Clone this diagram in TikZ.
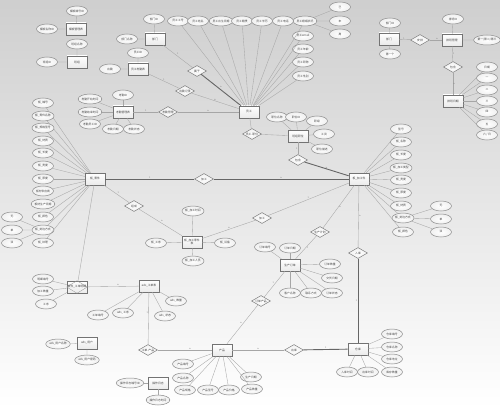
\documentclass[tikz,border=0pt]{standalone}
\usepackage{fontspec}
\newfontfamily\cjk{Noto Sans CJK SC}
\usetikzlibrary{shapes.geometric}
\begin{document}
\begin{tikzpicture}[x=1pt,y=-1pt,
  every node/.style={font=\cjk\fontsize{2.8}{3.2}\selectfont, text=black!75},
  ent/.style={draw=black!55, top color=white, bottom color=black!8, minimum width=20pt, minimum height=12pt, inner sep=0.5pt, line width=0.55pt},
  attr/.style={ellipse, draw=black!45, inner color=white, outer color=black!6, minimum width=21pt, minimum height=10pt, inner sep=0pt, line width=0.5pt},
  rel/.style={diamond, aspect=1.7, draw=black!50, inner color=white, outer color=black!6, minimum width=19pt, minimum height=11pt, inner sep=0pt, line width=0.5pt},
  ln/.style={draw=black!35, line width=0.35pt},
  bold/.style={draw=black!60, line width=0.9pt},
  card/.style={font=\fontsize{2.5}{3}\selectfont, text=black!50, inner sep=0.3pt}
]
\useasboundingbox (0,0) rectangle (500,409);
\shade[top color=black!19, bottom color=white] (0,0) rectangle (500,409);

% ---------- templates and teams ----------
\node[ent] (tpl) at (76,29) {模板管理表};
\node[attr] (tpl1) at (77,11) {模板编号ID};
\node[attr] (tpl2) at (47,29) {模板名称ID};
\node[ent] (team) at (77,62) {班组};
\node[attr] (team1) at (77,44) {班组名称};
\node[attr] (team2) at (47,62) {班组ID};
\draw[ln] (tpl) -- (tpl1) (tpl) -- (tpl2) (team) -- (team1) (team) -- (team2);

% ---------- department / attendance / reports ----------
\node[ent] (dept) at (155,39) {部门};
\node[attr] (dept1) at (154,19) {部门ID};
\node[attr] (dept2) at (127,39) {部门名称};
\node[ent] (att) at (138,69) {员工考勤表};
\node[attr] (att1) at (138,53) {员工ID};
\node[attr] (att2) at (110,69) {出勤};
\node[ent] (rep) at (123,112) {考勤管理表};
\node[attr] (rep1) at (123,95) {考勤ID};
\node[attr] (rep2) at (90,99) {考勤开始时间};
\node[attr] (rep3) at (90,112) {考勤结束时间};
\node[attr] (rep4) at (90,124) {考勤员工ID};
\node[attr] (rep5) at (113,129) {考勤日期};
\node[attr] (rep6) at (134,129) {考勤状态};
\draw[ln] (dept) -- (dept1) (dept) -- (dept2) (att) -- (att1) (att) -- (att2);
\foreach \a in {rep1,rep2,rep3,rep4,rep5,rep6} \draw[ln] (rep) -- (\a);

% ---------- employee ----------
\node[ent] (emp) at (249,112) {员工};
\node[attr] (e1) at (178,21) {员工工号};
\node[attr] (e2) at (198,21) {员工姓名};
\node[attr] (e3) at (221,21) {员工出生日期};
\node[attr] (e4) at (242,21) {员工籍贯};
\node[attr] (e5) at (262,21) {员工学历};
\node[attr] (e6) at (283,21) {员工电话};
\node[attr] (e7) at (305,21) {员工婚姻状况};
\node[attr] (e8) at (303,36) {员工email};
\node[attr] (e9) at (303,49) {员工年龄};
\node[attr] (e10) at (303,62) {员工职称};
\node[attr] (e11) at (303,76) {员工性别};
\node[attr] (m1) at (340,7) {已};
\node[attr] (m2) at (340,21) {未};
\node[attr] (m3) at (340,34) {离};
\foreach \a in {e1,e2,e3,e4,e5,e6,e7,e8,e9,e10,e11} \draw[ln] (emp) -- (\a);
\draw[ln] (e7) -- (m1) (e7) -- (m2) (e7) -- (m3);

\node[rel] (rbelong) at (197,71) {属于};
\node[rel] (ratt) at (185,91) {出勤记录};
\node[rel] (rmg) at (168,112) {考勤管理};
\draw[ln] (dept) -- node[card,pos=0.45,above right]{1} (rbelong);
\draw[bold] (rbelong) -- node[card,pos=0.45,above right]{n} (emp);
\draw[ln] (att) -- node[card,pos=0.5,above]{1} (ratt);
\draw[ln] (ratt) -- node[card,pos=0.5,above]{n} (emp);
\draw[ln] (rep) -- node[card,pos=0.5,above]{1} (rmg);
\draw[ln] (rmg) -- node[card,pos=0.5,above]{n} (emp);

% ---------- positions ----------
\node[ent] (pos) at (298,136) {班组职位};
\node[attr] (p1) at (277,117) {职位名称};
\node[attr] (p2) at (296,117) {职位ID};
\node[attr] (p3) at (317,121) {职级};
\node[attr] (p4) at (324,134) {工资};
\node[attr] (p5) at (322,149) {职位描述};
\foreach \a in {p1,p2,p3,p4,p5} \draw[ln] (pos) -- (\a);
\node[rel] (rpos) at (252,134) {员工-职位};
\draw[ln] (emp) -- (rpos) (rpos) -- (pos);

% ---------- top right ----------
\node[ent] (d2) at (389,39) {部门};
\node[attr] (d2a) at (390,23) {部门ID};
\node[attr] (d2b) at (390,54) {第一个};
\node[rel] (rd2) at (420,40) {安排};
\node[ent] (sch) at (452,40) {排班管理};
\node[attr] (scha) at (453,19) {排班ID};
\node[attr] (schb) at (487,40) {第一/第二/第三};
\node[rel] (rsch) at (453,67) {包含};
\node[ent] (wk) at (453,101) {排班日期};
\node[attr] (w1) at (487,67) {日期};
\node[attr] (w2) at (487,78) {一};
\node[attr] (w3) at (487,90) {二};
\node[attr] (w4) at (487,101) {三};
\node[attr] (w5) at (487,112) {四};
\node[attr] (w6) at (487,124) {五};
\node[attr] (w7) at (487,135) {六 / 日};
\draw[ln] (d2) -- (d2a) (d2) -- (d2b) (sch) -- (scha) (sch) -- (schb);
\draw[ln] (d2) -- node[card,pos=0.4,above]{1} (rd2);
\draw[ln] (rd2) -- node[card,pos=0.6,above]{n} (sch);
\draw[ln] (sch) -- node[card,pos=0.5,right]{1} (rsch);
\draw[ln] (rsch) -- node[card,pos=0.5,right]{n} (wk);
\foreach \a in {w1,w2,w3,w4,w5,w6,w7} \draw[ln] (wk) -- (\a);

% ---------- boards ----------
\node[ent] (board) at (95,179) {板\_零件};
\foreach \n/\y/\t in {b1/103/板\_编号,b2/116/板\_零件名称,b3/128/板\_规格型号,b4/141/板\_材质,b5/153/板\_长度,b6/166/板\_宽度,b7/179/板\_厚度,b8/191/板材供应商,b9/204/板材生产日期,b10/217/板\_颜色,b11/230/板\_封边方式,b12/243/板\_纹理}
  {\node[attr] (\n) at (43,\y) {\t}; \draw[ln] (board) -- (\n);}
\node[attr] (bx1) at (12,217) {无};
\node[attr] (bx2) at (12,230) {单};
\node[attr] (bx3) at (12,243) {双};
\draw[ln] (b11) -- (bx1) (b11) -- (bx2) (b11) -- (bx3);

\node[ent] (part) at (359,179) {板\_加工件};
\foreach \n/\y/\t in {q1/129/型号,q2/142/板\_名称,q3/155/板\_长度,q4/168/板\_加工类型,q5/180/板\_宽度,q6/193/板\_厚度,q7/206/板\_材质}
  {\node[attr] (\n) at (401,\y) {\t}; \draw[ln] (part) -- (\n);}
\node[attr] (q8) at (403,218) {板\_封边方式};
\node[attr] (q9) at (403,232) {板\_颜色};
\draw[ln] (part) -- (q8) (part) -- (q9);
\node[attr] (qx1) at (441,206) {无};
\node[attr] (qx2) at (441,219) {单};
\node[attr] (qx3) at (441,232) {双};
\draw[ln] (q8) -- (qx1) (q8) -- (qx2) (q8) -- (qx3);

\node[rel] (rcontain) at (298,160) {包含};
\draw[ln] (pos) -- node[card,pos=0.5,left]{1} (rcontain);
\draw[bold] (rcontain) -- node[card,pos=0.5,above]{n} (part);

\node[rel] (rmake) at (204,179) {加工};
\draw[bold] (board) -- node[card,pos=0.5,above]{1} (rmake);
\draw[bold] (rmake) -- node[card,pos=0.5,above]{n} (part);

\node[ent, align=center] (proc) at (192,242) {板\_加工零件\\表};
\node[attr] (pr1) at (193,211) {板\_加工时间};
\node[attr] (pr2) at (156,243) {板\_工序};
\node[attr] (pr3) at (225,243) {板\_设备};
\node[attr] (pr4) at (193,261) {板\_加工人员};
\foreach \a in {pr1,pr2,pr3,pr4} \draw[ln] (proc) -- (\a);
\node[rel] (rcomp) at (134,206) {组成};
\node[rel] (rproc) at (262,218) {加工};
\draw[ln] (board) -- node[card,pos=0.5,above right]{1} (rcomp);
\draw[ln] (rcomp) -- node[card,pos=0.5,above right]{n} (proc);
\draw[ln] (proc) -- node[card,pos=0.5,above]{n} (rproc);
\draw[ln] (rproc) -- node[card,pos=0.5,above]{1} (part);

% ---------- orders ----------
\node[ent] (order) at (290,265) {生产订单};
\node[attr] (o1) at (265,247) {订单编号};
\node[attr] (o2) at (290,248) {订单日期};
\node[attr] (o3) at (330,264) {订单数量};
\node[attr] (o4) at (332,278) {交货日期};
\node[attr] (o5) at (290,293) {客户名称};
\node[attr] (o6) at (311,293) {联系方式};
\node[attr] (o7) at (332,293) {订单状态};
\foreach \a in {o1,o2,o3,o4,o5,o6,o7} \draw[ln] (order) -- (\a);
\node[rel] (rplan) at (320,232) {生产计划};
\draw[ln] (part) -- node[card,pos=0.5,right]{n} (rplan);
\draw[ln] (rplan) -- node[card,pos=0.5,right]{1} (order);

% ---------- warehouse ----------
\node[ent] (stock) at (358,349) {仓库};
\node[attr] (s1) at (392,334) {仓库编号};
\node[attr] (s2) at (392,347) {仓库名称};
\node[attr] (s3) at (392,359) {仓库地址};
\node[attr] (s4) at (392,372) {库存数量};
\node[attr] (s5) at (347,372) {入库时间};
\node[attr] (s6) at (368,372) {出库时间};
\foreach \a in {s1,s2,s3,s4,s5,s6} \draw[ln] (stock) -- (\a);
\node[rel] (rin) at (358,253) {入库};
\draw[ln] (part) -- node[card,pos=0.5,right]{n} (rin);
\draw[bold] (rin) -- node[card,pos=0.5,left]{1} (stock);

% ---------- work orders and products ----------
\node[ent] (link) at (77,287) {};
\draw[black!40, line width=0.35pt] (link.west) -- (link.north) -- (link.east) -- (link.south) -- cycle;
\node at (link) {板件\_工单明细};
\node[attr] (l1) at (43,279) {明细编号};
\node[attr] (l2) at (43,291) {加工数量};
\node[attr] (l3) at (46,304) {工序};
\foreach \a in {l1,l2,l3} \draw[ln] (link) -- (\a);
\draw[ln] (board) -- (link);

\node[ent] (wo) at (149,286) {ads\_工单表};
\node[attr] (wo1) at (98,315) {工单编号};
\node[attr] (wo2) at (123,313) {ads\_工序};
\node[attr] (wo3) at (176,301) {ads\_数量};
\node[attr] (wo4) at (165,316) {ads\_状态};
\foreach \a in {wo1,wo2,wo3,wo4} \draw[ln] (wo) -- (\a);
\draw[ln] (link) -- node[card,pos=0.6,above]{n} (wo);

\node[ent] (prod) at (222,350) {产品};
\node[attr] (pd1) at (183,364) {产品编号};
\node[attr] (pd2) at (183,378) {产品名称};
\node[attr] (pd3) at (185,390) {产品规格};
\node[attr] (pd4) at (208,390) {产品型号};
\node[attr] (pd5) at (229,390) {产品价格};
\node[attr] (pd6) at (251,377) {生产日期};
\node[attr] (pd7) at (252,389) {产品数量};
\foreach \a in {pd1,pd2,pd3,pd4,pd5,pd6,pd7} \draw[ln] (prod) -- (\a);

\node[rel] (rwo) at (148,350) {工单-产品};
\draw[ln] (wo) -- node[card,pos=0.4,left]{1} (rwo);
\draw[ln] (rwo) -- node[card,pos=0.6,above]{n} (prod);
\node[rel] (rpo) at (261,301) {订单产品};
\draw[ln] (prod) -- node[card,pos=0.5,above left]{n} (rpo);
\draw[ln] (rpo) -- node[card,pos=0.5,above left]{1} (order);
\node[rel] (rship) at (294,350) {出库};
\draw[ln] (prod) -- node[card,pos=0.5,above]{n} (rship);
\draw[bold] (rship) -- node[card,pos=0.5,above]{1} (stock);

% ---------- users and logs ----------
\node[ent] (user) at (87,343) {ads\_用户};
\node[attr] (u1) at (58,344) {ads\_用户名称};
\node[attr] (u2) at (87,360) {ads\_用户密码};
\draw[ln] (user) -- (u1) (user) -- (u2);
\node[ent] (log) at (158,383) {操作日志};
\node[attr] (g1) at (130,383) {操作日志编号ID};
\node[attr] (g2) at (158,400) {操作日志时间};
\draw[ln] (log) -- (g1) (log) -- (g2);
\end{tikzpicture}
\end{document}
